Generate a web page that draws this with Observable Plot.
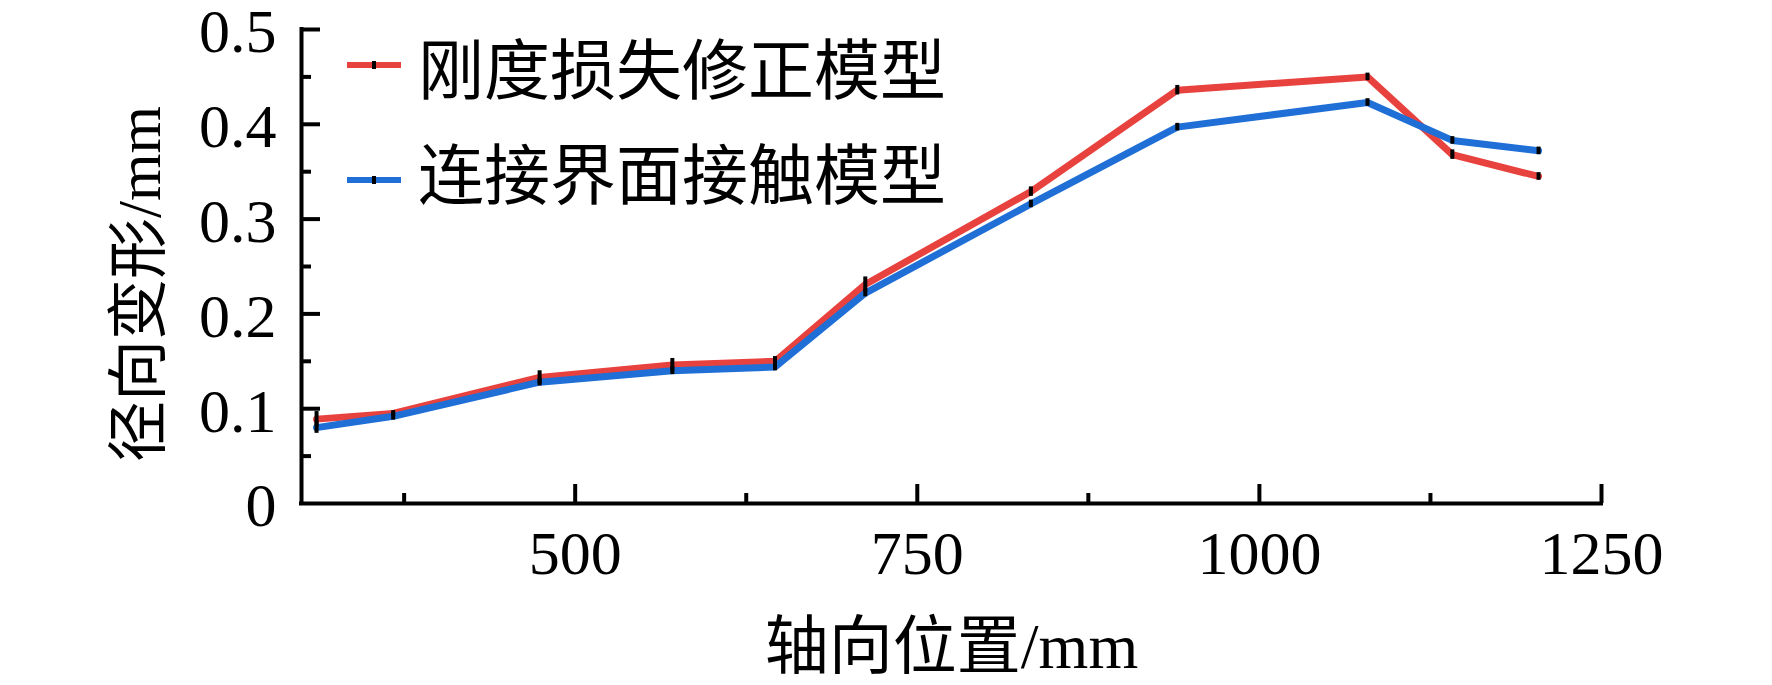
<!DOCTYPE html>
<html><head><meta charset="utf-8">
<script src="https://cdn.jsdelivr.net/npm/d3@7"></script>
<script src="https://cdn.jsdelivr.net/npm/@observablehq/plot@0.6"></script>
<style>body{margin:0;background:#fff}#chart{width:1772px;height:685px}</style>
</head><body><div id="chart"></div>
<script>
// axial position (mm)
const positions = [311, 367, 474, 571, 646, 712, 833, 940, 1079, 1141, 1204];
// 刚度损失修正模型 radial deformation (mm) and error half-lengths
const stiffnessLoss = [0.089, 0.095, 0.133, 0.146, 0.150, 0.231, 0.329, 0.436, 0.450, 0.368, 0.345];
const stiffnessErr  = [0.008, 0.003, 0.007, 0.007, 0.005, 0.008, 0.005, 0.005, 0.004, 0.005, 0.004];
// 连接界面接触模型
const contact    = [0.080, 0.092, 0.128, 0.140, 0.144, 0.222, 0.316, 0.397, 0.423, 0.383, 0.372];
const contactErr = [0.006, 0.004, 0.004, 0.004, 0.004, 0.004, 0.004, 0.004, 0.004, 0.004, 0.004];

const seriesNames = ["刚度损失修正模型", "连接界面接触模型"];
const seriesColors = ["#e8423f", "#1f6fd6"];
const xDomain = [300, 1250];
const yDomain = [0, 0.5];
const xMajor = [500, 750, 1000, 1250];
const xMinor = [375, 625, 875, 1125];
const yMajor = [0, 0.1, 0.2, 0.3, 0.4, 0.5];
const yMinor = [0.05, 0.15, 0.25, 0.35, 0.45];
const xLabel = "轴向位置/mm";
const yLabel = "径向变形/mm";

const rows = positions.flatMap((x, i) => [
  {x, y: stiffnessLoss[i], e: stiffnessErr[i], s: seriesNames[0]},
  {x, y: contact[i], e: contactErr[i], s: seriesNames[1]}
]);

const W = 1772, H = 685, mL = 301, mR = 171, mT = 29, mB = 182;
const innerW = W - mL - mR, innerH = H - mT - mB;
const font = '"Liberation Serif","Noto Sans CJK SC",serif';

const plot = Plot.plot({
  width: W, height: H,
  marginLeft: mL, marginRight: mR, marginTop: mT, marginBottom: mB,
  style: {fontFamily: font, background: "#fff", color: "#000", overflow: "visible"},
  x: {domain: xDomain},
  y: {domain: yDomain},
  color: {domain: seriesNames, range: seriesColors},
  marks: [
    Plot.line(rows, {x: "x", y: "y", z: "s", stroke: "s", strokeWidth: 7, strokeLinejoin: "round"}),
    Plot.ruleX(rows, {x: "x", y1: d => d.y - d.e, y2: d => d.y + d.e, stroke: "#000", strokeWidth: 4}),
    Plot.tickY(yMajor.slice(1), {y: d => d, insetRight: innerW - 19, stroke: "#000", strokeWidth: 4}),
    Plot.tickY(yMinor, {y: d => d, insetRight: innerW - 10, stroke: "#000", strokeWidth: 4}),
    Plot.tickX(xMajor, {x: d => d, insetTop: innerH - 19, stroke: "#000", strokeWidth: 4}),
    Plot.tickX(xMinor, {x: d => d, insetTop: innerH - 10, stroke: "#000", strokeWidth: 4}),
    Plot.ruleX([xDomain[0]], {stroke: "#000", strokeWidth: 4, strokeLinecap: "square"}),
    Plot.ruleY([yDomain[0]], {stroke: "#000", strokeWidth: 4, strokeLinecap: "square"}),
    Plot.axisY({ticks: yMajor, tickSize: 0, tickPadding: 25, dy: 3, tickFormat: d => d === 0 ? "0" : d.toFixed(1), fontSize: 62, label: null}),
    Plot.axisX({ticks: xMajor, tickSize: 0, tickPadding: 26, tickFormat: d => String(d), fontSize: 62, label: null}),
    Plot.text([xLabel], {frameAnchor: "bottom", dy: 164, fontSize: 64})
  ]
});

const svg = d3.select(plot);
// y axis title
svg.append("text")
  .attr("transform", `translate(${mL - 162},${mT + innerH / 2 + 18}) rotate(-90)`)
  .attr("text-anchor", "middle").attr("dominant-baseline", "central")
  .attr("font-family", font).attr("font-size", 61).attr("fill", "#000")
  .text(yLabel);

// legend inside the plot area, top-left
const g = svg.append("g").attr("font-family", font).attr("text-anchor", "start");
seriesNames.forEach((name, i) => {
  const ly = mT + 36 + i * 115;
  g.append("line").attr("x1", mL + 46).attr("x2", mL + 100).attr("y1", ly).attr("y2", ly)
    .attr("stroke", seriesColors[i]).attr("stroke-width", 6);
  g.append("rect").attr("x", mL + 71).attr("y", ly - 4).attr("width", 4).attr("height", 8).attr("fill", "#000");
  g.append("text").attr("x", mL + 117).attr("y", ly + (i === 0 ? 6 : -4)).attr("dominant-baseline", "central")
    .attr("text-anchor", "start").attr("font-size", 66).attr("fill", "#000").text(name);
});

document.getElementById("chart").appendChild(plot);
</script>
</body></html>
